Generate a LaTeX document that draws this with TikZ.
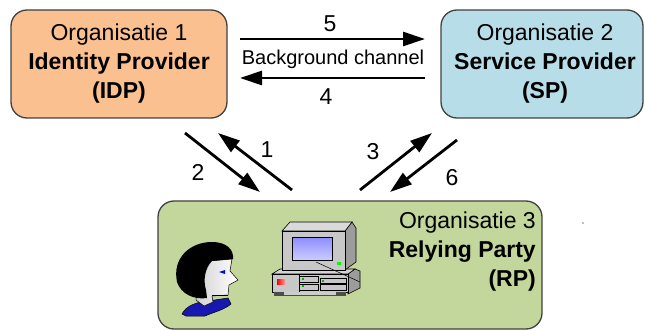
\documentclass[tikz,border=0pt]{standalone}
\usepackage{fontspec}
\setmainfont{Liberation Sans}
\usetikzlibrary{arrows.meta}
\definecolor{idpfill}{HTML}{FAC090}
\definecolor{spfill}{HTML}{B7DDE8}
\definecolor{rpfill}{HTML}{C3D69B}
\definecolor{boxline}{HTML}{404040}
\definecolor{shirtblue}{HTML}{1818B0}
\definecolor{casegray}{HTML}{C8C8C8}
\definecolor{casedark}{HTML}{9C9C9C}
\begin{document}
\begin{tikzpicture}[x=1pt,y=-1pt,
  orgbox/.style={draw=boxline, line width=1.3pt, rounded corners=16pt, inner sep=0pt},
  orgtext/.style={font=\fontsize{23}{29}\selectfont, inner sep=0pt},
  flow/.style={line width=2.8pt, -{Triangle[length=22pt,width=14pt]}},
  steplabel/.style={font=\fontsize{23}{27}\selectfont, inner sep=0pt},
  hw/.style={draw=black, line width=0.6pt},
]
\useasboundingbox (0,0) rectangle (645,331);

% organisations
\node[orgbox, fill=idpfill, minimum width=216pt, minimum height=108pt] (idp) at (119,64) {};
\node[orgbox, fill=spfill, minimum width=202pt, minimum height=108pt] (sp) at (542,64) {};
\node[orgbox, fill=rpfill, minimum width=384pt, minimum height=128pt] (rp) at (350,265) {};

\node[orgtext, align=center] (idptext) at (119,64) {Organisatie 1\\\textbf{Identity Provider}\\\textbf{(IDP)}};
\node[orgtext, align=center] (sptext) at (545,64) {Organisatie 2\\\textbf{Service Provider}\\\textbf{(SP)}};
\node[orgtext, align=right, anchor=east] (rptext) at (536,252) {Organisatie 3\\\textbf{Relying Party}\\\textbf{(RP)}};

% background channel between IDP and SP
\coordinate (bc5a) at (240,39);
\coordinate (bc5b) at (425,39);
\coordinate (bc4a) at (425,78);
\coordinate (bc4b) at (240,78);
\draw[flow] (bc5a) -- (bc5b);
\draw[flow] (bc4a) -- (bc4b);
\node[steplabel] (n5) at (330,24) {5};
\node[steplabel] (n4) at (326,97) {4};
\node[font=\fontsize{20}{24}\selectfont, inner sep=0pt] (bgc) at (333,59) {Background channel};

% front channel arrows
\coordinate (a2s) at (185,133);
\coordinate (a2e) at (260,192);
\coordinate (a1s) at (292,190);
\coordinate (a1e) at (218,133);
\coordinate (a3s) at (360,190);
\coordinate (a3e) at (432,133);
\coordinate (a6s) at (457,140);
\coordinate (a6e) at (390,192);
\draw[flow] (a2s) -- (a2e);
\draw[flow] (a1s) -- (a1e);
\draw[flow] (a3s) -- (a3e);
\draw[flow] (a6s) -- (a6e);
\node[steplabel] (n1) at (267,150) {1};
\node[steplabel] (n2) at (198,172) {2};
\node[steplabel] (n3) at (373,152) {3};
\node[steplabel] (n6) at (452,178) {6};

% user
\filldraw[fill=shirtblue, draw=black, line width=0.5pt]
  (182,314) .. controls (186,306) and (196,302) .. (208,301) -- (228,298) -- (231,304)
  .. controls (224,310) and (214,312) .. (205,316) -- (186,316) -- cycle;
\shade[left color=gray!35, right color=white, draw=black, line width=0.5pt]
  (196,262) -- (232,259) -- (230,271) -- (238,280) -- (229,285) -- (228,295)
  -- (212,296) -- (213,302) -- (204,306) -- (196,300) -- cycle;
\fill[black]
  (177,282) .. controls (172,258) and (190,242) .. (212,242)
  .. controls (227,242) and (234,250) .. (233,259) -- (212,261)
  .. controls (205,268) and (203,280) .. (206,290) -- (207,298)
  .. controls (194,300) and (181,294) .. (177,282) -- cycle;
\draw[line width=0.6pt] (212,295) -- (228,295);
\fill[blue] (219,272) -- (225,270) -- (225,274) -- cycle;

% workstation: system unit
\filldraw[hw, fill=casedark] (348,274) -- (355,269) -- (360,271) -- (360,288) -- (348,294) -- cycle;
\filldraw[hw, fill=casegray!80] (272,274) -- (280,269) -- (355,269) -- (348,274) -- cycle;
\filldraw[hw, fill=casegray] (272,274) rectangle (348,292);
\fill[black!70] (274,292) rectangle (346,296);
\fill[gray!40] (284,292) rectangle (336,295);
\shade[left color=red, right color=red!40] (277,279) rectangle (285,284);
\draw[hw, line width=0.4pt] (299,274) -- (299,292);
\draw[hw, line width=0.4pt] (299,276) rectangle (318,282);
\draw[hw, line width=0.4pt] (299,284) rectangle (318,290);
\draw[hw, line width=0.4pt] (320,278) rectangle (346,283);
\draw[hw, line width=0.4pt] (320,284) rectangle (346,290);
\fill[green!70!black] (302,278) rectangle (304,280);
\fill[green!70!black] (322,280) rectangle (324,282);
\fill[green!70!black] (302,285) rectangle (304,287);

% workstation: monitor
\filldraw[hw, fill=casedark] (345,231) -- (352,222) -- (356,228) -- (356,262) -- (345,270) -- cycle;
\filldraw[hw, fill=casegray!70] (282,231) -- (290,222) -- (352,222) -- (345,231) -- cycle;
\filldraw[hw, fill=casegray] (282,231) rectangle (345,270);
\shade[hw, top color=blue!45, bottom color=blue!20, line width=0.4pt] (292,237) rectangle (332,260);
\fill[green] (337,262) rectangle (341,265);
\draw[line width=0.5pt] (316,262) -- (360,282);

\fill[gray] (583,223) circle (0.8);
\end{tikzpicture}
\end{document}
